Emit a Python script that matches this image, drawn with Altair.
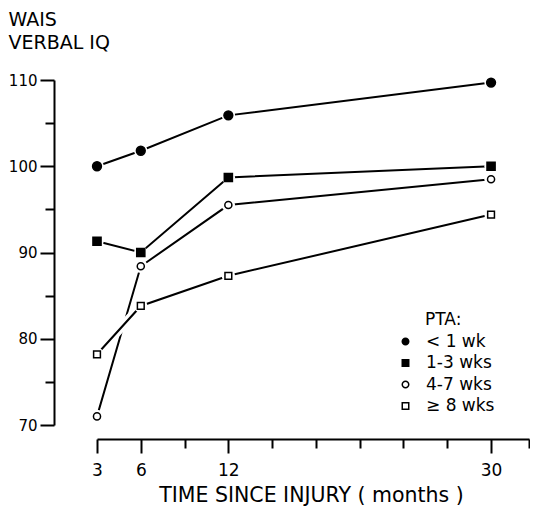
import json
import altair as alt
import pandas as pd

# ---- data ----
months = [3, 6, 12, 30]
series_names = ["< 1 wk", "1-3 wks", "4-7 wks", "≥ 8 wks"]
iq_lt1 = [100.0, 101.8, 105.9, 109.7]
iq_1_3 = [91.3, 90.0, 98.7, 100.0]
iq_4_7 = [71.0, 88.4, 95.5, 98.5]
iq_ge8 = [78.2, 83.8, 87.3, 94.4]

x_max = 32.6
x_ticks = [3, 6, 9, 12, 15, 18, 21, 24, 27, 30, x_max]
x_labels = [3, 6, 12, 30]
y_ticks = [70, 75, 80, 85, 90, 95, 100, 105, 110]
y_labels = [70, 80, 90, 100, 110]
legend_title = ["PTA:"]

rows = []
for name, vals in zip(series_names, [iq_lt1, iq_1_3, iq_4_7, iq_ge8]):
    for m, v in zip(months, vals):
        rows.append({"series": name, "month": m, "iq": v})
df = pd.DataFrame(rows)

FONT = "DejaVu Sans"
xl = json.dumps(x_labels)
yl = json.dumps(y_labels)

x_scale = alt.Scale(domain=[3, x_max], nice=False, zero=False)
y_scale = alt.Scale(domain=[70, 110], nice=False, zero=False)

x_axis = alt.Axis(
    values=x_ticks,
    labelExpr=f"indexof({xl}, datum.value) >= 0 ? datum.label : ''",
    tickSize={"condition": {"test": f"indexof({xl}, datum.value) >= 0", "value": 14}, "value": 9},
    offset=14, grid=False,
    domainColor="black", domainWidth=2, tickColor="black", tickWidth=2,
    labelFont=FONT, labelFontSize=17, labelColor="black", labelPadding=9,
    labelFlush=False, labelOverlap=False,
    title="TIME SINCE INJURY ( months )", titleFont=FONT, titleFontSize=20.5,
    titleFontWeight="normal", titleColor="black",
    titleX=214, titleY=62, titleBaseline="alphabetic",
)
y_axis = alt.Axis(
    values=y_ticks,
    labelExpr=f"indexof({yl}, datum.value) >= 0 ? datum.label : ''",
    tickSize={"condition": {"test": f"indexof({yl}, datum.value) >= 0", "value": 14}, "value": 9},
    offset=43, grid=False,
    domainColor="black", domainWidth=2, tickColor="black", tickWidth=2,
    labelFont=FONT, labelFontSize=15, labelColor="black", labelPadding=3,
    labelOverlap=False,
    title=["WAIS", "VERBAL IQ"], titleFont=FONT, titleFontSize=19,
    titleFontWeight="normal", titleColor="black", titleAngle=0,
    titleAlign="left", titleBaseline="alphabetic", titleX=-46, titleY=-55,
    titleLineHeight=23,
)

X = alt.X("month:Q", scale=x_scale, axis=x_axis)
Y = alt.Y("iq:Q", scale=y_scale, axis=y_axis)

size_expr = ("datum.series === '%s' ? 78 : datum.series === '%s' ? 66 : "
             "datum.series === '%s' ? 50 : 46") % tuple(series_names[:3])
base = alt.Chart(df).transform_calculate(msize=size_expr)

lines = base.transform_filter(
    alt.FieldOneOfPredicate(field="series", oneOf=series_names[:3])
).mark_line(color="black", strokeWidth=2).encode(x=X, y=Y, detail="series:N")

ge8 = base.transform_filter(alt.FieldEqualPredicate(field="series", equal=series_names[3]))
ge8_halo = ge8.mark_line(color="white", strokeWidth=9).encode(x=X, y=Y)
ge8_line = ge8.mark_line(color="black", strokeWidth=2).encode(x=X, y=Y)

halo = base.mark_point(filled=True, color="white", shape="circle", size=180, opacity=1).encode(x=X, y=Y)

legend = alt.Legend(
    title=None, orient="none", legendX=300, legendY=253,
    labelFont=FONT, labelFontSize=17, labelColor="black", labelOffset=12,
    symbolSize=42, symbolStrokeColor="black", symbolStrokeWidth=1.5,
    rowPadding=3.5,
)
markers = base.mark_point(strokeWidth=1.5, opacity=1, fillOpacity=1).encode(
    x=X, y=Y,
    shape=alt.Shape("series:N", scale=alt.Scale(domain=series_names,
                    range=["circle", "square", "circle", "square"]), legend=legend),
    fill=alt.Fill("series:N", scale=alt.Scale(domain=series_names,
                  range=["black", "black", "white", "white"]), legend=legend),
    stroke=alt.Stroke("series:N", scale=alt.Scale(domain=series_names,
                      range=["black", "black", "black", "black"]), legend=legend),
    size=alt.Size("msize:Q", scale=None),
)

pta = alt.Chart(pd.DataFrame({"t": legend_title})).mark_text(
    align="left", baseline="alphabetic", font=FONT, fontSize=17, color="black"
).encode(text="t:N", x=alt.value(328), y=alt.value(245))

chart = alt.layer(lines, ge8_halo, ge8_line, halo, markers, pta).properties(
    width=432, height=345,
    autosize=alt.AutoSizeParams(type="none"),
    padding={"left": 89, "top": 72, "right": 1, "bottom": 81},
).configure(background="white").configure_view(strokeWidth=0)

chart.save("out.html", embed_options={"renderer": "svg", "actions": False})
